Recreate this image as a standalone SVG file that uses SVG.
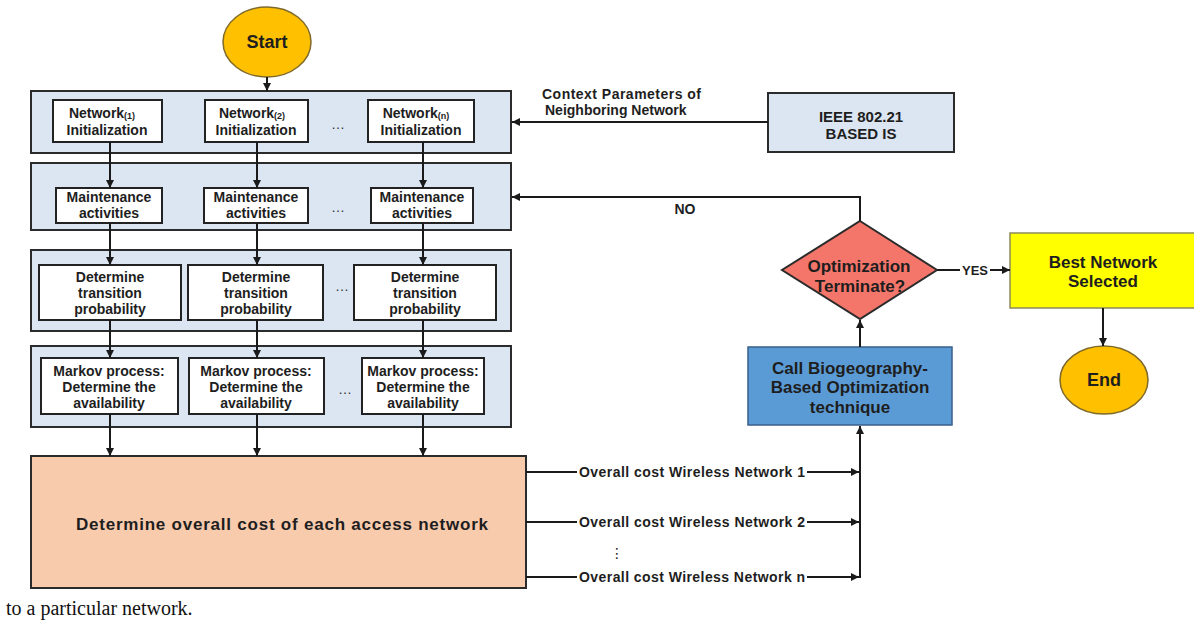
<svg xmlns="http://www.w3.org/2000/svg" width="1194" height="622" viewBox="0 0 1194 622">
<style>
text{font-family:"Liberation Sans",Arial,sans-serif;font-weight:700;fill:#1e1e1e;text-anchor:middle}
.s{font-size:14px}
.b{font-size:17px}
.sub{font-size:9px}
.dots{font-size:14px;font-weight:400;fill:#333}
.panel{fill:#dce6f2;stroke:#2b2b2b;stroke-width:2}
.box{fill:#fff;stroke:#222;stroke-width:2}
.ln{fill:none;stroke:#1a1a1a;stroke-width:2}
.lbl{font-size:14px;text-anchor:start}
</style>
<defs>
<marker id="ah" viewBox="0 0 10 10" refX="10" refY="5" markerWidth="4" markerHeight="4" orient="auto" markerUnits="strokeWidth">
<path d="M0,0 L10,5 L0,10 z" fill="#1a1a1a"/>
</marker>
</defs>

<g id="start"><ellipse cx="267" cy="42" rx="44" ry="35" fill="#ffc000" stroke="#7f6a2a" stroke-width="1.5"/><text class="b" x="267" y="48" style="font-size:18px">Start</text></g>

<g id="row1"><rect class="panel" x="31" y="91" width="480" height="62"/>
<rect class="box" x="53" y="100" width="109" height="42"/><text class="s" x="102" y="118">Network<tspan class="sub" dy="1">(1)</tspan></text><text class="s" x="107" y="135">Initialization</text>
<rect class="box" x="205" y="100" width="103" height="42"/><text class="s" x="252" y="118">Network<tspan class="sub" dy="1">(2)</tspan></text><text class="s" x="256" y="135">Initialization</text>
<text class="dots" x="338" y="129">…</text>
<rect class="box" x="368" y="100" width="106" height="42"/><text class="s" x="416" y="118">Network<tspan class="sub" dy="1">(n)</tspan></text><text class="s" x="421" y="135">Initialization</text></g>

<g id="row2"><rect class="panel" x="31" y="163" width="480" height="67"/>
<rect class="box" x="56" y="188" width="106" height="35"/><text class="s" x="109" y="202">Maintenance</text><text class="s" x="109" y="218">activities</text>
<rect class="box" x="204" y="188" width="104" height="35"/><text class="s" x="256" y="202">Maintenance</text><text class="s" x="256" y="218">activities</text>
<text class="dots" x="338" y="212">…</text>
<rect class="box" x="371" y="188" width="102" height="35"/><text class="s" x="422" y="202">Maintenance</text><text class="s" x="422" y="218">activities</text></g>

<g id="row3"><rect class="panel" x="31" y="250" width="480" height="81"/>
<rect class="box" x="39" y="265" width="142" height="55"/><text class="s" x="110" y="282">Determine</text><text class="s" x="110" y="298">transition</text><text class="s" x="110" y="314">probability</text>
<rect class="box" x="188" y="265" width="135" height="55"/><text class="s" x="256" y="282">Determine</text><text class="s" x="256" y="298">transition</text><text class="s" x="256" y="314">probability</text>
<text class="dots" x="342" y="291">…</text>
<rect class="box" x="354" y="265" width="142" height="55"/><text class="s" x="425" y="282">Determine</text><text class="s" x="425" y="298">transition</text><text class="s" x="425" y="314">probability</text></g>

<g id="row4"><rect class="panel" x="31" y="346" width="480" height="81"/>
<rect class="box" x="41" y="358" width="137" height="56"/><text class="s" x="109" y="376">Markov process:</text><text class="s" x="109" y="392">Determine the</text><text class="s" x="109" y="408">availability</text>
<rect class="box" x="189" y="358" width="135" height="56"/><text class="s" x="256" y="376">Markov process:</text><text class="s" x="256" y="392">Determine the</text><text class="s" x="256" y="408">availability</text>
<text class="dots" x="345" y="394">…</text>
<rect class="box" x="362" y="358" width="122" height="56"/><text class="s" x="423" y="376">Markov process:</text><text class="s" x="423" y="392">Determine the</text><text class="s" x="423" y="408">availability</text></g>

<g id="cost"><rect x="31" y="456" width="495" height="132" fill="#f8cbad" stroke="#2b2b2b" stroke-width="2"/><text x="282" y="530" style="font-size:17px" textLength="412">Determine overall cost of each access network</text></g>

<g id="ieee"><rect x="768" y="93" width="186" height="59" fill="#dce6f2" stroke="#2b2b2b" stroke-width="2"/><text x="861" y="122" style="font-size:15px">IEEE 802.21</text><text x="861" y="139" style="font-size:15px">BASED IS</text></g>

<g id="bbo"><rect x="748" y="347" width="204" height="78" fill="#5b9bd5" stroke="#3a5f8a" stroke-width="1.5"/><text class="b" x="850" y="374">Call Biogeography-</text><text class="b" x="850" y="393">Based Optimization</text><text class="b" x="850" y="413">technique</text></g>

<g id="decision"><polygon points="860,221 937,270 860,319 782,270" fill="#f4756a" stroke="#2b2b2b" stroke-width="2"/><text class="b" x="859" y="272">Optimization</text><text class="b" x="860" y="292">Terminate?</text></g>

<g id="best"><rect x="1010" y="233" width="190" height="75" fill="#ffff00" stroke="#8a8a5a" stroke-width="1.5"/><text class="b" x="1103" y="268">Best Network</text><text class="b" x="1103" y="287">Selected</text></g>

<g id="end"><ellipse cx="1104" cy="380" rx="44" ry="34" fill="#ffc000" stroke="#7f6a2a" stroke-width="1.5"/><text class="b" x="1104" y="386" style="font-size:18px">End</text></g>

<g id="connectors">
<line class="ln" x1="267" y1="77" x2="267" y2="91" marker-end="url(#ah)"/>
<line class="ln" x1="110" y1="142" x2="110" y2="188" marker-end="url(#ah)"/>
<line class="ln" x1="257" y1="142" x2="257" y2="188" marker-end="url(#ah)"/>
<line class="ln" x1="423" y1="142" x2="423" y2="188" marker-end="url(#ah)"/>
<line class="ln" x1="110" y1="223" x2="110" y2="265" marker-end="url(#ah)"/>
<line class="ln" x1="257" y1="223" x2="257" y2="265" marker-end="url(#ah)"/>
<line class="ln" x1="423" y1="223" x2="423" y2="265" marker-end="url(#ah)"/>
<line class="ln" x1="110" y1="320" x2="110" y2="358" marker-end="url(#ah)"/>
<line class="ln" x1="257" y1="320" x2="257" y2="358" marker-end="url(#ah)"/>
<line class="ln" x1="423" y1="320" x2="423" y2="358" marker-end="url(#ah)"/>
<line class="ln" x1="110" y1="414" x2="110" y2="456" marker-end="url(#ah)"/>
<line class="ln" x1="257" y1="414" x2="257" y2="456" marker-end="url(#ah)"/>
<line class="ln" x1="423" y1="414" x2="423" y2="456" marker-end="url(#ah)"/>
<line class="ln" x1="768" y1="122" x2="512" y2="122" marker-end="url(#ah)"/>
<text class="lbl" x="542" y="99" textLength="159">Context Parameters of</text>
<text class="lbl" x="545" y="115">Neighboring Network</text>
<polyline class="ln" points="860,221 860,197 512,197" marker-end="url(#ah)"/>
<text class="s" x="685" y="214">NO</text>
<line class="ln" x1="937" y1="270" x2="960" y2="270"/>
<text class="s" x="975" y="275" style="font-size:13px">YES</text>
<line class="ln" x1="990" y1="270" x2="1010" y2="270" marker-end="url(#ah)"/>
<line class="ln" x1="860" y1="347" x2="860" y2="320" marker-end="url(#ah)"/>
<line class="ln" x1="1103" y1="308" x2="1103" y2="346" marker-end="url(#ah)"/>
<line class="ln" x1="526" y1="472" x2="577" y2="472"/>
<line class="ln" x1="807" y1="472" x2="859" y2="472" marker-end="url(#ah)"/>
<text class="lbl" x="579" y="477" textLength="226">Overall cost Wireless Network 1</text>
<line class="ln" x1="526" y1="522" x2="577" y2="522"/>
<line class="ln" x1="807" y1="522" x2="859" y2="522" marker-end="url(#ah)"/>
<text class="lbl" x="579" y="527" textLength="226">Overall cost Wireless Network 2</text>
<text x="617" y="558" style="font-size:14px;font-weight:400;font-family:'DejaVu Sans',sans-serif">⋮</text>
<line class="ln" x1="526" y1="577" x2="577" y2="577"/>
<line class="ln" x1="807" y1="577" x2="859" y2="577" marker-end="url(#ah)"/>
<text class="lbl" x="579" y="582" textLength="226">Overall cost Wireless Network n</text>
<line class="ln" x1="860" y1="578" x2="860" y2="426" marker-end="url(#ah)"/>
</g>

<text x="6" y="615" style="font-family:'Liberation Serif',serif;font-weight:400;font-size:20px;text-anchor:start;fill:#111">to a particular network.</text>
</svg>
